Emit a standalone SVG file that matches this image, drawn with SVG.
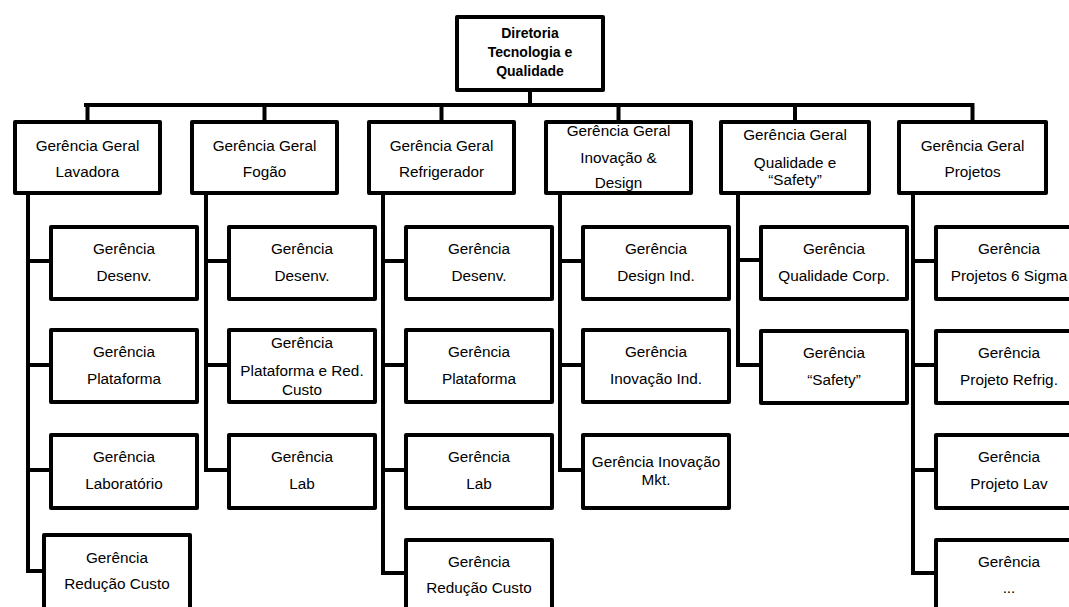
<svg xmlns="http://www.w3.org/2000/svg" width="1069" height="607" viewBox="0 0 1069 607">
  <style>
    .box { fill: #ffffff; stroke: #000000; stroke-width: 4; stroke-linejoin: round; }
    .wire { fill: none; stroke: #000000; stroke-width: 4; stroke-linejoin: miter; stroke-linecap: square; }
    text { font-family: "Liberation Sans", Arial, sans-serif; font-size: 15.3px; fill: #000000; text-anchor: middle; }
    .head { font-weight: bold; font-size: 14px; }
  </style>
  <rect width="1069" height="607" fill="#ffffff"/>

  <!-- connectors -->
  <g id="connectors" class="wire">
    <!-- director to bus -->
    <path d="M530 90 V105"/>
    <path d="M86 105 H972"/>
    <path d="M87.5 105 V122 M264.5 105 V122 M441.5 105 V122 M618.5 105 V122 M795 105 V122 M972.5 105 V122"/>
    <!-- Lavadora -->
    <path d="M28 193 V571 M28 261 H51 M28 365 H51 M28 470 H51 M28 571 H44"/>
    <!-- Fogão -->
    <path d="M206 193 V470 M206 261 H229 M206 365 H229 M206 470 H229"/>
    <!-- Refrigerador -->
    <path d="M383 193 V573 M383 261 H406 M383 365 H406 M383 470 H406 M383 573 H406"/>
    <!-- Inovação & Design -->
    <path d="M560 193 V470 M560 261 H583 M560 365 H583 M560 470 H583"/>
    <!-- Qualidade e Safety -->
    <path d="M738 193 V365 M738 260 H761 M738 365 H761"/>
    <!-- Projetos -->
    <path d="M913 193 V573 M913 261 H936 M913 365 H936 M913 470 H936 M913 573 H936"/>
  </g>

  <!-- director -->
  <g id="diretoria">
    <rect class="box" x="457" y="17" width="146" height="73"/>
    <text class="head" x="530" y="38">Diretoria</text>
    <text class="head" x="530" y="57">Tecnologia e</text>
    <text class="head" x="530" y="76">Qualidade</text>
  </g>

  <!-- general managements -->
  <g id="gg-lavadora">
    <rect class="box" x="15" y="122" width="145" height="71"/>
    <text x="87.5" y="151">Gerência Geral</text>
    <text x="87.5" y="177">Lavadora</text>
  </g>
  <g id="gg-fogao">
    <rect class="box" x="192" y="122" width="145" height="71"/>
    <text x="264.5" y="151">Gerência Geral</text>
    <text x="264.5" y="177">Fogão</text>
  </g>
  <g id="gg-refrigerador">
    <rect class="box" x="369" y="122" width="145" height="71"/>
    <text x="441.5" y="151">Gerência Geral</text>
    <text x="441.5" y="177">Refrigerador</text>
  </g>
  <g id="gg-inovacao">
    <rect class="box" x="546" y="122" width="145" height="71"/>
    <text x="618.5" y="136">Gerência Geral</text>
    <text x="618.5" y="163">Inovação &amp;</text>
    <text x="618.5" y="188">Design</text>
  </g>
  <g id="gg-qualidade">
    <rect class="box" x="721" y="122" width="148" height="71"/>
    <text x="795" y="140">Gerência Geral</text>
    <text x="795" y="168">Qualidade e</text>
    <text x="795" y="185">“Safety”</text>
  </g>
  <g id="gg-projetos">
    <rect class="box" x="899" y="122" width="147" height="71"/>
    <text x="972.5" y="151">Gerência Geral</text>
    <text x="972.5" y="177">Projetos</text>
  </g>

  <!-- Lavadora managements -->
  <g id="lav-desenv">
    <rect class="box" x="51" y="227" width="146" height="72"/>
    <text x="124" y="254">Gerência</text>
    <text x="124" y="281">Desenv.</text>
  </g>
  <g id="lav-plataforma">
    <rect class="box" x="51" y="330" width="146" height="72"/>
    <text x="124" y="357">Gerência</text>
    <text x="124" y="384">Plataforma</text>
  </g>
  <g id="lav-laboratorio">
    <rect class="box" x="51" y="435" width="146" height="73"/>
    <text x="124" y="462">Gerência</text>
    <text x="124" y="489">Laboratório</text>
  </g>
  <g id="lav-reducao">
    <rect class="box" x="44" y="535" width="146" height="80"/>
    <text x="117" y="563">Gerência</text>
    <text x="117" y="589">Redução Custo</text>
  </g>

  <!-- Fogão managements -->
  <g id="fog-desenv">
    <rect class="box" x="229" y="227" width="146" height="72"/>
    <text x="302" y="254">Gerência</text>
    <text x="302" y="281">Desenv.</text>
  </g>
  <g id="fog-plataforma">
    <rect class="box" x="229" y="330" width="146" height="72"/>
    <text x="302" y="348">Gerência</text>
    <text x="302" y="376">Plataforma e Red.</text>
    <text x="302" y="395">Custo</text>
  </g>
  <g id="fog-lab">
    <rect class="box" x="229" y="435" width="146" height="73"/>
    <text x="302" y="462">Gerência</text>
    <text x="302" y="489">Lab</text>
  </g>

  <!-- Refrigerador managements -->
  <g id="ref-desenv">
    <rect class="box" x="406" y="227" width="146" height="72"/>
    <text x="479" y="254">Gerência</text>
    <text x="479" y="281">Desenv.</text>
  </g>
  <g id="ref-plataforma">
    <rect class="box" x="406" y="330" width="146" height="72"/>
    <text x="479" y="357">Gerência</text>
    <text x="479" y="384">Plataforma</text>
  </g>
  <g id="ref-lab">
    <rect class="box" x="406" y="435" width="146" height="73"/>
    <text x="479" y="462">Gerência</text>
    <text x="479" y="489">Lab</text>
  </g>
  <g id="ref-reducao">
    <rect class="box" x="406" y="540" width="146" height="80"/>
    <text x="479" y="567">Gerência</text>
    <text x="479" y="593">Redução Custo</text>
  </g>

  <!-- Inovação & Design managements -->
  <g id="ino-design">
    <rect class="box" x="583" y="227" width="146" height="72"/>
    <text x="656" y="254">Gerência</text>
    <text x="656" y="281">Design Ind.</text>
  </g>
  <g id="ino-inovacao">
    <rect class="box" x="583" y="330" width="146" height="72"/>
    <text x="656" y="357">Gerência</text>
    <text x="656" y="384">Inovação Ind.</text>
  </g>
  <g id="ino-mkt">
    <rect class="box" x="583" y="435" width="146" height="73"/>
    <text x="656" y="467">Gerência Inovação</text>
    <text x="656" y="485">Mkt.</text>
  </g>

  <!-- Qualidade e Safety managements -->
  <g id="qua-corp">
    <rect class="box" x="761" y="227" width="146" height="72"/>
    <text x="834" y="254">Gerência</text>
    <text x="834" y="281">Qualidade Corp.</text>
  </g>
  <g id="qua-safety">
    <rect class="box" x="761" y="331" width="146" height="72"/>
    <text x="834" y="358">Gerência</text>
    <text x="834" y="385">“Safety”</text>
  </g>

  <!-- Projetos managements -->
  <g id="pro-sigma">
    <rect class="box" x="936" y="227" width="146" height="72"/>
    <text x="1009" y="254">Gerência</text>
    <text x="1009" y="281">Projetos 6 Sigma</text>
  </g>
  <g id="pro-refrig">
    <rect class="box" x="936" y="331" width="146" height="72"/>
    <text x="1009" y="358">Gerência</text>
    <text x="1009" y="385">Projeto Refrig.</text>
  </g>
  <g id="pro-lav">
    <rect class="box" x="936" y="435" width="146" height="73"/>
    <text x="1009" y="462">Gerência</text>
    <text x="1009" y="489">Projeto Lav</text>
  </g>
  <g id="pro-outros">
    <rect class="box" x="936" y="540" width="146" height="80"/>
    <text x="1009" y="567">Gerência</text>
    <text x="1009" y="593">...</text>
  </g>
</svg>
